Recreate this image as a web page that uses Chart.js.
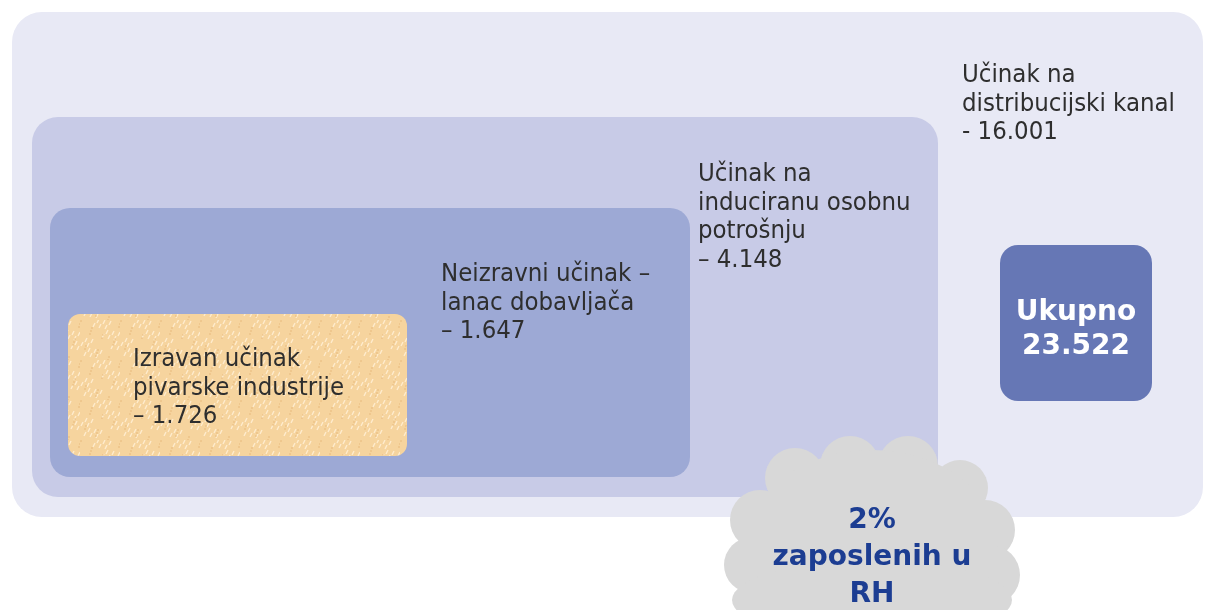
<!DOCTYPE html>
<html>
<head>
<meta charset="utf-8">
<script src="https://cdn.jsdelivr.net/npm/chart.js@4.4.1/dist/chart.umd.min.js"></script>
<style>
    html, body { margin: 0; padding: 0; background: #ffffff; }
    #wrap { width: 1210px; height: 610px; }
</style>
</head>
<body>
<div id="wrap"><canvas id="effectChart" width="1210" height="610"></canvas></div>
<script>
// zaposlenost po razinama učinka pivarske industrije
const categories = [
    ['Izravan učinak', 'pivarske industrije'],
    ['Neizravni učinak –', 'lanac dobavljača'],
    ['Učinak na', 'induciranu osobnu', 'potrošnju'],
    ['Učinak na', 'distribucijski kanal']
];
const employees = [1726, 1647, 4148, 16001];
const dashes = ['–', '–', '–', '-'];
const totalLabel = 'Ukupno';
const shareLines = ['2%', 'zaposlenih u', 'RH'];

const total = employees.reduce((a, b) => a + b, 0);

// layout on a 1210 x 610 grid (x right, y down)
const boxes = [
    { x0: 12, y0: 12, x1: 1203, y1: 517, r: 30, color: '#e8e9f5' },
    { x0: 32, y0: 117, x1: 938, y1: 497, r: 26, color: '#c8cbe7' },
    { x0: 50, y0: 208, x1: 690, y1: 477, r: 20, color: '#9da9d5' },
    { x0: 68, y0: 314, x1: 407, y1: 456, r: 12, color: 'texture' }
];
const labelAnchors = [
    { x: 133, y: 366 },
    { x: 441, y: 281 },
    { x: 698, y: 181 },
    { x: 962, y: 82 }
];
const totalBox = { x0: 1000, y0: 245, x1: 1152, y1: 401, r: 18, color: '#6677b5' };
const cloudBumps = [
    [795, 478, 30], [850, 466, 30], [908, 466, 30], [960, 488, 28],
    [985, 530, 30], [990, 575, 30], [760, 520, 30], [752, 565, 28],
    [872, 545, 125, 95], [872, 600, 140, 40]
];

function fmt(n) {
    return String(n).replace(/\B(?=(\d{3})+(?!\d))/g, '.');
}

function texturePattern(ctx) {
    const c = document.createElement('canvas');
    c.width = 40; c.height = 40;
    const p = c.getContext('2d');
    p.fillStyle = '#f6d49e';
    p.fillRect(0, 0, 40, 40);
    p.strokeStyle = 'rgba(255,238,210,0.9)';
    p.lineWidth = 1.4;
    for (let i = 0; i < 26; i++) {
        const x = (i * 37) % 40;
        const y = (i * 23 + (i % 3) * 7) % 40;
        p.beginPath();
        p.moveTo(x, y);
        p.lineTo(x + 2, y - 4);
        p.stroke();
    }
    p.fillStyle = 'rgba(225,175,110,0.35)';
    for (let i = 0; i < 18; i++) {
        p.fillRect((i * 17) % 40, (i * 29) % 40, 2, 2);
    }
    return ctx.createPattern(c, 'repeat');
}

const diagramPlugin = {
    id: 'diagram',
    beforeDatasetsDraw(chart) {
        const { ctx, scales: { x, y } } = chart;
        const px = v => x.getPixelForValue(v);
        const py = v => y.getPixelForValue(v);

        function roundBox(b, fill) {
            ctx.beginPath();
            ctx.roundRect(px(b.x0), py(b.y0), px(b.x1) - px(b.x0), py(b.y1) - py(b.y0), b.r);
            ctx.fillStyle = fill;
            ctx.fill();
        }

        ctx.save();
        boxes.forEach(b => roundBox(b, b.color === 'texture' ? texturePattern(ctx) : b.color));
        roundBox(totalBox, totalBox.color);

        // labels
        ctx.fillStyle = '#2e2e2e';
        ctx.font = '25.5px "DejaVu Sans Condensed", "DejaVu Sans", sans-serif';
        ctx.textAlign = 'left';
        ctx.textBaseline = 'alphabetic';
        categories.forEach((lines, i) => {
            const a = labelAnchors[i];
            const all = lines.concat([dashes[i] + ' ' + fmt(employees[i])]);
            all.forEach((t, k) => ctx.fillText(t, px(a.x), py(a.y + k * 28.5)));
        });

        // total
        ctx.fillStyle = '#ffffff';
        ctx.font = 'bold 28px "DejaVu Sans", sans-serif';
        ctx.textAlign = 'center';
        const cx = (totalBox.x0 + totalBox.x1) / 2;
        ctx.fillText(totalLabel, px(cx), py(320));
        ctx.fillText(fmt(total), px(cx), py(354));

        // cloud
        ctx.fillStyle = '#d8d8d8';
        cloudBumps.forEach(c => {
            ctx.beginPath();
            ctx.ellipse(px(c[0]), py(c[1]), c[2], c[3] || c[2], 0, 0, Math.PI * 2);
            ctx.fill();
        });
        ctx.fillStyle = '#1c3d92';
        ctx.font = 'bold 28px "DejaVu Sans", sans-serif';
        shareLines.forEach((t, k) => ctx.fillText(t, px(872), py(528 + k * 37)));
        ctx.restore();
    }
};

new Chart(document.getElementById('effectChart'), {
    type: 'scatter',
    data: {
        datasets: [{
            label: 'Zaposleni',
            data: [],
            pointRadius: 0
        }]
    },
    options: {
        responsive: false,
        animation: false,
        layout: { padding: 0 },
        plugins: {
            legend: { display: false },
            tooltip: { enabled: false }
        },
        scales: {
            x: { type: 'linear', min: 0, max: 1210, display: false },
            y: { type: 'linear', min: 0, max: 610, reverse: true, display: false }
        }
    },
    plugins: [diagramPlugin]
});
</script>
</body>
</html>
